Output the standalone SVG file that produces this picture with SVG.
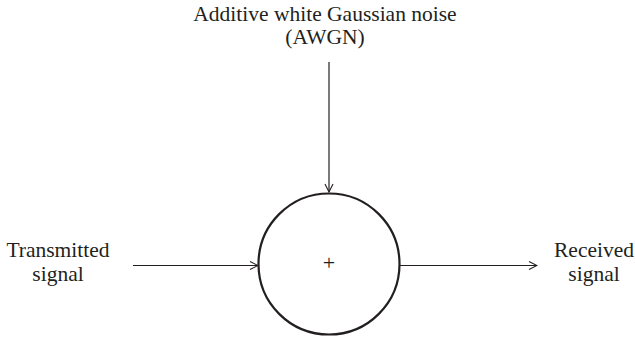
<svg xmlns="http://www.w3.org/2000/svg" width="635" height="338" viewBox="0 0 635 338">
<defs>
<marker id="a" markerWidth="10" markerHeight="10" refX="9" refY="5" orient="auto" markerUnits="userSpaceOnUse">
<path d="M1,1 L9,5 L1,9" fill="none" stroke="#231f20" stroke-width="1.1"/>
</marker>
</defs>
<rect width="635" height="338" fill="#fff"/>
<g id="noise">
<text x="325" y="21" font-family="Liberation Serif" font-size="21.5" fill="#231f20" text-anchor="middle">Additive white Gaussian noise</text>
<text x="325" y="44" font-family="Liberation Serif" font-size="21.5" fill="#231f20" text-anchor="middle">(AWGN)</text>
</g>
<g id="tx">
<text x="58" y="257" font-family="Liberation Serif" font-size="21.5" fill="#231f20" text-anchor="middle">Transmitted</text>
<text x="58" y="281" font-family="Liberation Serif" font-size="21.5" fill="#231f20" text-anchor="middle">signal</text>
</g>
<g id="rx">
<text x="594" y="257" font-family="Liberation Serif" font-size="21.5" fill="#231f20" text-anchor="middle">Received</text>
<text x="594" y="281" font-family="Liberation Serif" font-size="21.5" fill="#231f20" text-anchor="middle">signal</text>
</g>
<g id="adder">
<circle cx="329" cy="264" r="70.5" fill="#fff" stroke="#231f20" stroke-width="2.2"/>
<text x="329" y="270" font-family="Liberation Serif" font-size="22" fill="#231f20" text-anchor="middle">+</text>
</g>
<g id="connectors" stroke="#231f20" stroke-width="1.2" fill="none">
<line x1="329" y1="62" x2="329" y2="192" marker-end="url(#a)"/>
<line x1="133" y1="265.5" x2="258" y2="265.5" marker-end="url(#a)"/>
<line x1="400" y1="265.5" x2="537" y2="265.5" marker-end="url(#a)"/>
</g>
</svg>
